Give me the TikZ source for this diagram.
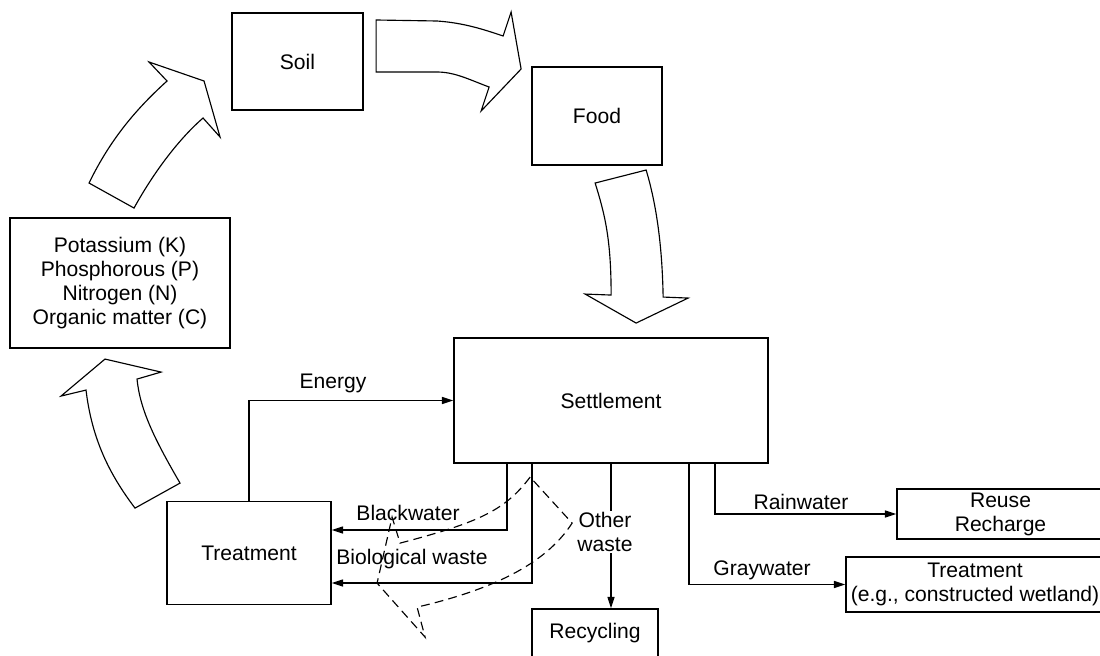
\documentclass[tikz,border=0pt]{standalone}
\usepackage{fontspec}
\setmainfont{Liberation Sans}
\usetikzlibrary{arrows.meta, positioning}

\begin{document}
\begin{tikzpicture}[
  box/.style={draw, rectangle, line width=0.75pt, align=center, inner sep=1pt},
  flow/.style={draw, line width=0.65pt, line join=miter},
  lbl/.style={inner sep=1pt, align=center},
  >={Triangle[length=6.5pt,width=4pt]},
  font=\fontsize{12}{13.6}\selectfont,
  line width=0.7pt
]
  \useasboundingbox (0,0) rectangle (22,13.1);

  % boxes
  \node[box, minimum width=2.62cm, minimum height=1.94cm] (soil) at (5.95,11.87) {Soil};
  \node[box, minimum width=2.6cm, minimum height=1.96cm] (food) at (11.94,10.78) {Food};
  \node[box, minimum width=4.4cm, minimum height=2.6cm] (nutr) at (2.40,7.44)
    {Potassium (K)\\Phosphorous (P)\\Nitrogen (N)\\Organic matter (C)};
  \node[box, minimum width=6.28cm, minimum height=2.5cm] (settle) at (12.22,5.09) {Settlement};
  \node[box, minimum width=3.28cm, minimum height=2.06cm] (treat) at (4.98,2.04) {Treatment};
  \node[box, minimum width=2.52cm, minimum height=0.96cm] (recyc) at (11.9,0.44) {Recycling};
  \node[box, minimum width=4.14cm, minimum height=1.0cm] (reuse) at (20.01,2.82) {Reuse\\Recharge};
  \node[box, minimum width=5.16cm, minimum height=1.1cm] (wetland) at (19.5,1.41)
    {Treatment\\(e.g., constructed wetland)};

  % outlets along the bottom of the settlement
  \coordinate (sBlack) at ([xshift=-2.08cm]settle.south);
  \coordinate (sBio) at ([xshift=-1.58cm]settle.south);
  \coordinate (sGray) at ([xshift=1.56cm]settle.south);
  \coordinate (sRain) at ([xshift=2.08cm]settle.south);

  \draw[->] (treat.north) |- (settle.west);
  \draw[->] (sBlack) |- ([yshift=0.46cm]treat.east);
  \draw[->] (sBio) |- ([yshift=-0.6cm]treat.east);
  \draw[->] (settle.south) -- (settle.south |- recyc.north);
  \draw[->] (sRain) |- (reuse.west);
  \draw[->] (sGray) |- (wetland.west);

  % flow labels
  \node[lbl] (energy) at (6.66,5.44) {Energy};
  \node[lbl] (black) at (8.16,2.84) {Blackwater};
  \node[lbl] (bio) at (8.24,1.92) {Biological waste};
  \node[lbl, fill=white] (other) at (12.1,2.46) {Other\\waste};
  \node[lbl] (rain) at (16.02,3.06) {Rainwater};
  \node[lbl] (gray) at (15.24,1.70) {Graywater};

  % big curved arrows of the nutrient cycle (drawn in pixel-ish units)
  \begin{scope}[shift={(0,13.1)}, x=0.02cm, y=-0.02cm]
    \draw[flow] (89,183) -- (134,208) .. controls (155,170) and (180,138) .. (203,118)
      -- (220,137) -- (204,81) -- (149,62) -- (167,81)
      .. controls (135,110) and (110,140) .. (89,183) -- cycle;
    \draw[flow] (376,20) -- (437,21) .. controls (465,23) and (485,30) .. (503,36)
      -- (511,12) -- (521,69) -- (481,111) -- (489,87)
      .. controls (470,80) and (455,72) .. (437,72) -- (376,72) -- cycle;
    \draw[flow] (595,183) -- (646,170) .. controls (655,200) and (662,240) .. (663,297)
      -- (688,298) -- (636,323) -- (585,294) -- (611,295)
      .. controls (611,240) and (605,215) .. (595,183) -- cycle;
    \draw[flow] (135,508) -- (180,483) .. controls (155,440) and (140,410) .. (137,379)
      -- (161,372) -- (105,359) -- (61,396) -- (86,390)
      .. controls (92,440) and (110,475) .. (135,508) -- cycle;
    % other waste kept out of the treatment line
    \draw[flow, dash pattern=on 5pt off 3pt] (530,477)
      .. controls (505,510) and (480,522) .. (400,543)
      -- (392,517) -- (377,583) -- (425,637) -- (417,607)
      .. controls (490,590) and (545,565) .. (572,523) -- cycle;
  \end{scope}
\end{tikzpicture}
\end{document}
